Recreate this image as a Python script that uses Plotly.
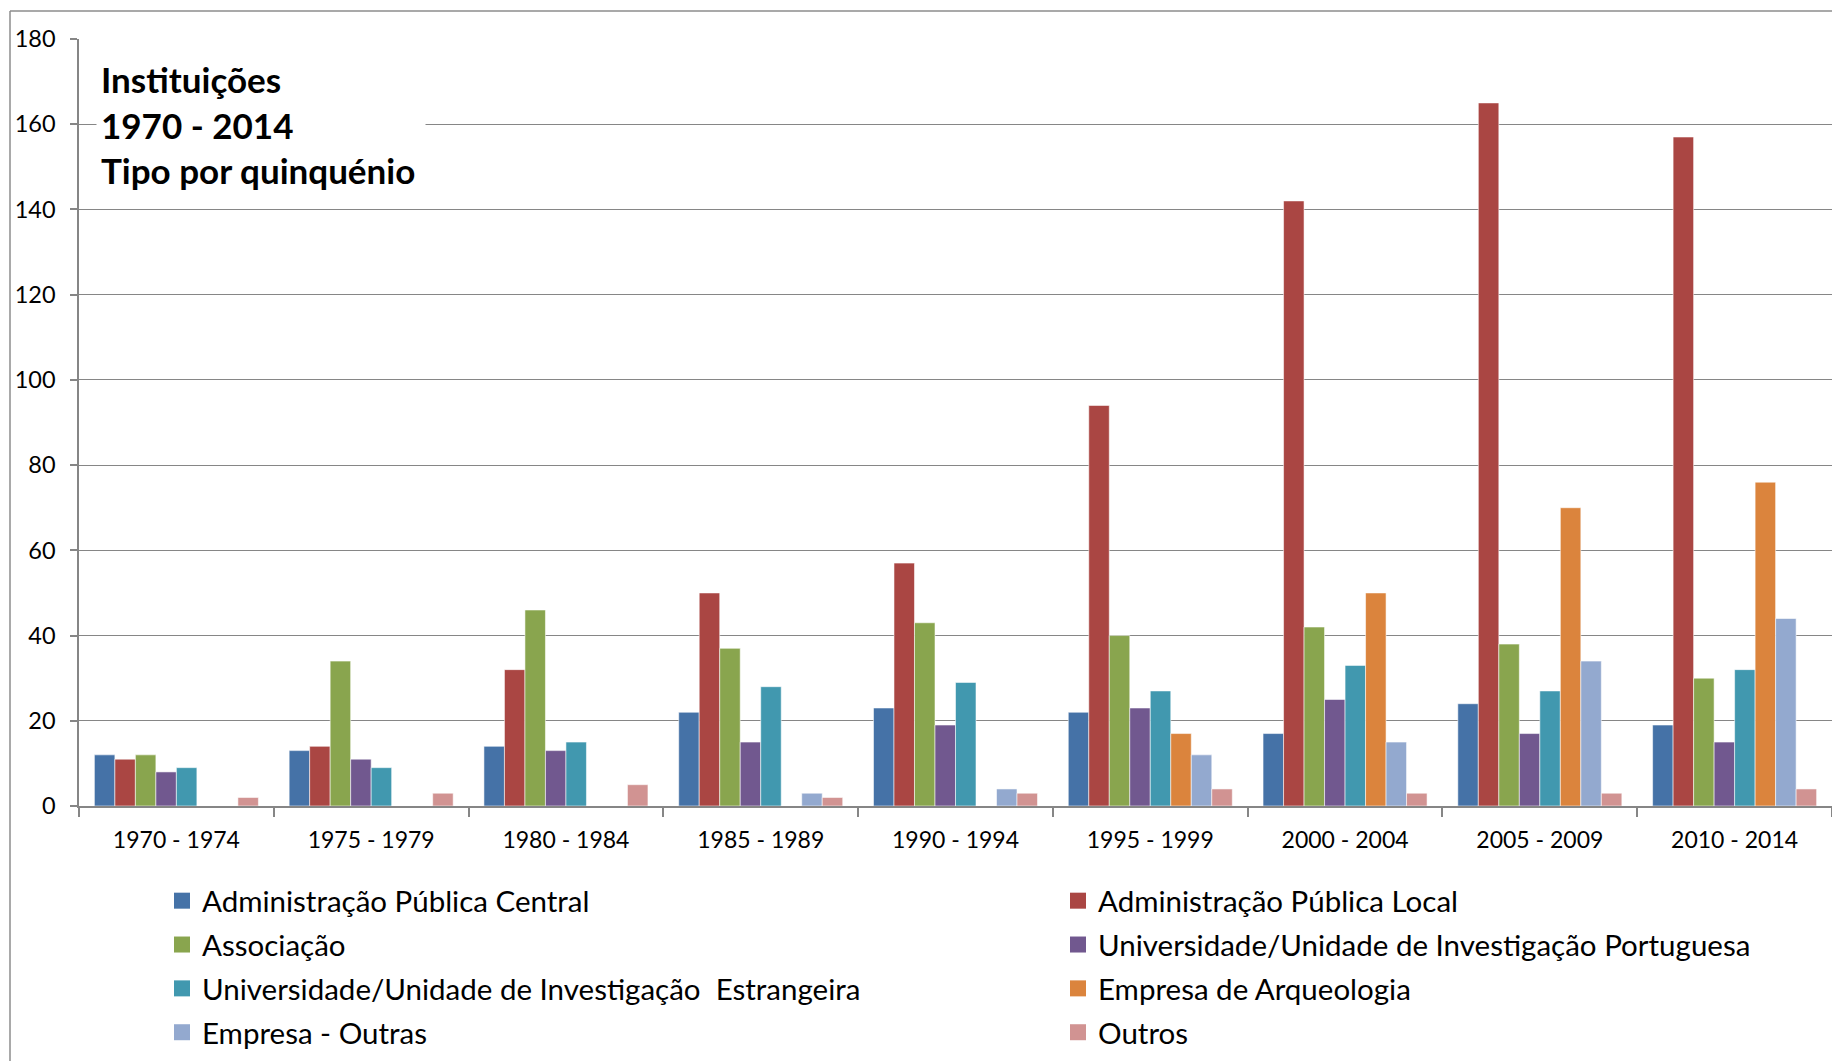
import plotly.graph_objects as go

categories = ["1970 - 1974", "1975 - 1979", "1980 - 1984", "1985 - 1989", "1990 - 1994",
              "1995 - 1999", "2000 - 2004", "2005 - 2009", "2010 - 2014"]

series_names = [
    "Administração Pública Central",
    "Administração Pública Local",
    "Associação",
    "Universidade/Unidade de Investigação Portuguesa",
    "Universidade/Unidade de Investigação  Estrangeira",
    "Empresa de Arqueologia",
    "Empresa - Outras",
    "Outros",
]

adm_central = [12, 13, 14, 22, 23, 22, 17, 24, 19]
adm_local = [11, 14, 32, 50, 57, 94, 142, 165, 157]
associacao = [12, 34, 46, 37, 43, 40, 42, 38, 30]
univ_portuguesa = [8, 11, 13, 15, 19, 23, 25, 17, 15]
univ_estrangeira = [9, 9, 15, 28, 29, 27, 33, 27, 32]
empresa_arqueologia = [0, 0, 0, 0, 0, 17, 50, 70, 76]
empresa_outras = [0, 0, 0, 3, 4, 12, 15, 34, 44]
outros = [2, 3, 5, 2, 3, 4, 3, 3, 4]

series_values = [adm_central, adm_local, associacao, univ_portuguesa,
                 univ_estrangeira, empresa_arqueologia, empresa_outras, outros]

colors = ["#4572A7", "#AA4643", "#89A54E", "#71588F",
          "#4198AF", "#DB843D", "#93A9CF", "#D19392"]

y_ticks = [0, 20, 40, 60, 80, 100, 120, 140, 160, 180]

title_lines = ["Instituições", "1970 - 2014", "Tipo por quinquénio"]

FONT = "Lato, 'Open Sans', sans-serif"
GRID = "#868686"

OFF = 8  # page body margin
W, H = 1840 - OFF, 1061 - OFF
ML = 79 - OFF
MT = 39 - OFF
PLOT_RIGHT = 1832 - OFF
PLOT_BOTTOM = 806 - OFF
MR = W - PLOT_RIGHT
MB = H - PLOT_BOTTOM
PW = W - ML - MR
PH = H - MT - MB

fig = go.Figure()

for name, vals, col in zip(series_names, series_values, colors):
    fig.add_trace(go.Bar(
        x=categories, y=vals, name=name, legendgroup=name, showlegend=False,
        marker=dict(color=col, line=dict(color="rgba(255,255,255,0.55)", width=1)),
    ))

# legend entries (square swatches), two columns: even index -> left, odd -> right
for i, (name, col) in enumerate(zip(series_names, colors)):
    fig.add_trace(go.Scatter(
        x=[None], y=[None], mode="markers", name=name, legendgroup=name,
        legend="legend" if i % 2 == 0 else "legend2",
        marker=dict(symbol="square", size=16, color=col, line=dict(width=0)),
        showlegend=True,
    ))

# reference-screen pixel -> paper coords
def px_x(px):
    return (px - OFF - ML) / PW

def px_y(py):
    return (H - MB - (py - OFF)) / PH

legend_common = dict(
    orientation="v", xanchor="left", yanchor="top",
    xref="paper", yref="paper",
    font=dict(family=FONT, size=29.5, color="black"),
    bgcolor="rgba(0,0,0,0)", borderwidth=0, traceorder="grouped",
    tracegroupgap=2.5, itemclick=False, itemdoubleclick=False,
)

fig.update_layout(
    width=W, height=H,
    margin=dict(l=ML, r=MR, t=MT, b=MB, pad=0, autoexpand=False),
    paper_bgcolor="white", plot_bgcolor="white",
    barmode="group", bargap=1.5 / 9.5, bargroupgap=0,
    font=dict(family=FONT, color="black"),
    showlegend=True,
    legend=dict(x=px_x(162), y=px_y(875), **legend_common),
    legend2=dict(x=px_x(1058), y=px_y(875), **legend_common),
    xaxis=dict(
        type="category", categoryorder="array", categoryarray=categories,
        showline=True, linecolor=GRID, linewidth=1.5,
        ticks="outside", ticklen=9, tickwidth=1.5, tickcolor=GRID,
        tickson="boundaries", showgrid=False,
        tickfont=dict(family=FONT, size=23, color="black"),
        ticklabelstandoff=13,
    ),
    yaxis=dict(
        range=[0, 180], tickvals=y_ticks, showgrid=True, gridcolor=GRID, gridwidth=1.4,
        showline=True, linecolor=GRID, linewidth=1.5,
        ticks="outside", ticklen=7, tickwidth=1.5, tickcolor=GRID,
        tickfont=dict(family=FONT, size=23.5, color="black"),
        ticklabelstandoff=10, zeroline=False,
    ),
    annotations=[dict(
        text="<b>" + "<br>".join(title_lines) + "</b>",
        xref="paper", yref="y", x=px_x(96), y=160, xanchor="left", yanchor="middle",
        showarrow=False, align="left", width=320, borderpad=4,
        bgcolor="white", font=dict(family=FONT, size=35, color="black"),
    )],
    shapes=[
        dict(type="line", xref="paper", yref="paper",
             x0=px_x(10), x1=px_x(1845), y0=px_y(11), y1=px_y(11),
             line=dict(color="#8C8C8C", width=1.5)),
        dict(type="line", xref="paper", yref="paper",
             x0=px_x(10), x1=px_x(10), y0=px_y(11), y1=px_y(1070),
             line=dict(color="#8C8C8C", width=1.5)),
    ],
)

fig.write_html("out.html")
